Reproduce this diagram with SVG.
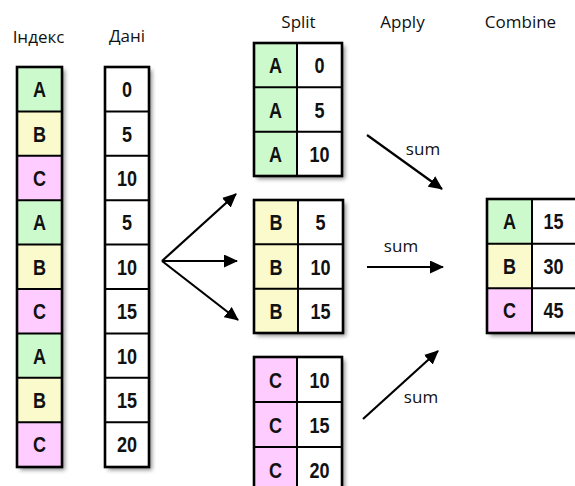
<svg xmlns="http://www.w3.org/2000/svg" width="575" height="486" viewBox="0 0 575 486">
  <style>
    .hdr { font-family: "Open Sans", "Noto Sans", sans-serif; font-size: 17px; fill: #111; text-anchor: middle; }
    .lbl { font-family: "Open Sans", "Noto Sans", sans-serif; font-size: 17px; fill: #111; text-anchor: middle; }
    .cell text { font-family: "Liberation Sans", Arial, sans-serif; font-weight: bold; font-size: 22px; fill: #111; text-anchor: middle; }
    .g { fill: #cdfacd; }
    .y { fill: #fafacd; }
    .p { fill: #ffccff; }
    .w { fill: #ffffff; }
    .sep { stroke: #000; stroke-width: 2; fill: none; }
    .frame { stroke: #000; stroke-width: 2.6; fill: none; }
    .conn { stroke: #000; stroke-width: 2.2; fill: none; }
  </style>
  <defs>
    <filter id="shadow" x="-20%" y="-10%" width="150%" height="130%">
      <feDropShadow dx="3" dy="3" stdDeviation="2" flood-color="#000" flood-opacity="0.45"/>
    </filter>
    <marker id="head" viewBox="0 0 14 13" refX="13" refY="6.5" markerWidth="14" markerHeight="13" markerUnits="userSpaceOnUse" orient="auto">
      <path d="M0,0 L14,6.5 L0,13 Z" fill="#000"/>
    </marker>
  </defs>
  <rect width="575" height="486" fill="#ffffff"/>

  <!-- column headers -->
  <g id="headers">
    <text class="hdr" x="38.5" y="43">Індекс</text>
    <text class="hdr" x="127" y="42">Дані</text>
    <text class="hdr" x="298.5" y="27.5">Split</text>
    <text class="hdr" x="402.5" y="27.5">Apply</text>
    <text class="hdr" x="520.5" y="27.5">Combine</text>
  </g>

  <!-- key column -->
  <g id="index-column" class="cell">
    <g filter="url(#shadow)">
      <rect class="g" x="17" y="67" width="45" height="44.4"/>
      <rect class="y" x="17" y="111.4" width="45" height="44.4"/>
      <rect class="p" x="17" y="155.8" width="45" height="44.4"/>
      <rect class="g" x="17" y="200.2" width="45" height="44.4"/>
      <rect class="y" x="17" y="244.6" width="45" height="44.4"/>
      <rect class="p" x="17" y="289" width="45" height="44.4"/>
      <rect class="g" x="17" y="333.4" width="45" height="44.4"/>
      <rect class="y" x="17" y="377.8" width="45" height="44.4"/>
      <rect class="p" x="17" y="422.2" width="45" height="44.8"/>
    </g>
    <path class="sep" d="M17,111.4H62M17,155.8H62M17,200.2H62M17,244.6H62M17,289H62M17,333.4H62M17,377.8H62M17,422.2H62"/>
    <rect class="frame" x="17" y="67" width="45" height="400"/>
    <text transform="translate(39.5 97.2) scale(0.82 1)">A</text>
    <text transform="translate(39.5 141.6) scale(0.82 1)">B</text>
    <text transform="translate(39.5 186) scale(0.82 1)">C</text>
    <text transform="translate(39.5 230.4) scale(0.82 1)">A</text>
    <text transform="translate(39.5 274.8) scale(0.82 1)">B</text>
    <text transform="translate(39.5 319.2) scale(0.82 1)">C</text>
    <text transform="translate(39.5 363.6) scale(0.82 1)">A</text>
    <text transform="translate(39.5 408) scale(0.82 1)">B</text>
    <text transform="translate(39.5 452.4) scale(0.82 1)">C</text>
  </g>

  <!-- value column -->
  <g id="data-column" class="cell">
    <rect class="w" x="105" y="67" width="44" height="400" filter="url(#shadow)"/>
    <path class="sep" d="M105,111.4H149M105,155.8H149M105,200.2H149M105,244.6H149M105,289H149M105,333.4H149M105,377.8H149M105,422.2H149"/>
    <rect class="frame" x="105" y="67" width="44" height="400"/>
    <text transform="translate(127 97.2) scale(0.82 1)">0</text>
    <text transform="translate(127 141.6) scale(0.82 1)">5</text>
    <text transform="translate(127 186) scale(0.82 1)">10</text>
    <text transform="translate(127 230.4) scale(0.82 1)">5</text>
    <text transform="translate(127 274.8) scale(0.82 1)">10</text>
    <text transform="translate(127 319.2) scale(0.82 1)">15</text>
    <text transform="translate(127 363.6) scale(0.82 1)">10</text>
    <text transform="translate(127 408) scale(0.82 1)">15</text>
    <text transform="translate(127 452.4) scale(0.82 1)">20</text>
  </g>

  <!-- group A -->
  <g id="split-a" class="cell">
    <g filter="url(#shadow)">
      <rect class="g" x="254" y="43" width="43" height="133"/>
      <rect class="w" x="297" y="43" width="45" height="133"/>
    </g>
    <path class="sep" d="M297,43V176M254,87.3H342M254,131.7H342"/>
    <rect class="frame" x="254" y="43" width="88" height="133"/>
    <text transform="translate(275.5 73.2) scale(0.82 1)">A</text>
    <text transform="translate(319.5 73.2) scale(0.82 1)">0</text>
    <text transform="translate(275.5 117.6) scale(0.82 1)">A</text>
    <text transform="translate(319.5 117.6) scale(0.82 1)">5</text>
    <text transform="translate(275.5 162) scale(0.82 1)">A</text>
    <text transform="translate(319.5 162) scale(0.82 1)">10</text>
  </g>

  <!-- group B -->
  <g id="split-b" class="cell">
    <g filter="url(#shadow)">
      <rect class="y" x="254" y="200" width="44" height="133"/>
      <rect class="w" x="298" y="200" width="45" height="133"/>
    </g>
    <path class="sep" d="M298,200V333M254,244.3H343M254,288.7H343"/>
    <rect class="frame" x="254" y="200" width="89" height="133"/>
    <text transform="translate(276 230.2) scale(0.82 1)">B</text>
    <text transform="translate(320.5 230.2) scale(0.82 1)">5</text>
    <text transform="translate(276 274.6) scale(0.82 1)">B</text>
    <text transform="translate(320.5 274.6) scale(0.82 1)">10</text>
    <text transform="translate(276 319) scale(0.82 1)">B</text>
    <text transform="translate(320.5 319) scale(0.82 1)">15</text>
  </g>

  <!-- group C -->
  <g id="split-c" class="cell">
    <g filter="url(#shadow)">
      <rect class="p" x="254" y="357" width="43" height="134"/>
      <rect class="w" x="297" y="357" width="45" height="134"/>
    </g>
    <path class="sep" d="M297,357V491M254,402H342M254,447H342"/>
    <rect class="frame" x="254" y="357" width="88" height="134"/>
    <text transform="translate(275.5 387.7) scale(0.82 1)">C</text>
    <text transform="translate(319.5 387.7) scale(0.82 1)">10</text>
    <text transform="translate(275.5 432.7) scale(0.82 1)">C</text>
    <text transform="translate(319.5 432.7) scale(0.82 1)">15</text>
    <text transform="translate(275.5 477.7) scale(0.82 1)">C</text>
    <text transform="translate(319.5 477.7) scale(0.82 1)">20</text>
  </g>

  <!-- combined result -->
  <g id="combine" class="cell">
    <g filter="url(#shadow)">
      <rect class="g" x="487" y="199" width="45" height="44.7"/>
      <rect class="y" x="487" y="243.7" width="45" height="44.6"/>
      <rect class="p" x="487" y="288.3" width="45" height="44.7"/>
      <rect class="w" x="532" y="199" width="46" height="134"/>
    </g>
    <path class="sep" d="M532,199V333M487,243.7H578M487,288.3H578"/>
    <rect class="frame" x="487" y="199" width="91" height="134"/>
    <text transform="translate(509.5 229.2) scale(0.82 1)">A</text>
    <text transform="translate(553.5 229.2) scale(0.82 1)">15</text>
    <text transform="translate(509.5 273.8) scale(0.82 1)">B</text>
    <text transform="translate(553.5 273.8) scale(0.82 1)">30</text>
    <text transform="translate(509.5 318.2) scale(0.82 1)">C</text>
    <text transform="translate(553.5 318.2) scale(0.82 1)">45</text>
  </g>

  <!-- arrows -->
  <g id="connectors">
    <line class="conn" x1="162" y1="261" x2="236" y2="194" marker-end="url(#head)"/>
    <line class="conn" x1="162" y1="261" x2="237" y2="261" marker-end="url(#head)"/>
    <line class="conn" x1="162" y1="261" x2="238" y2="320" marker-end="url(#head)"/>
    <line class="conn" x1="367" y1="135" x2="442" y2="189" marker-end="url(#head)"/>
    <line class="conn" x1="367" y1="267" x2="443" y2="267" marker-end="url(#head)"/>
    <line class="conn" x1="363" y1="419" x2="438" y2="351" marker-end="url(#head)"/>
  </g>

  <!-- function labels -->
  <g id="labels">
    <text class="lbl" x="423" y="155">sum</text>
    <text class="lbl" x="401" y="252">sum</text>
    <text class="lbl" x="421" y="403">sum</text>
  </g>
</svg>
